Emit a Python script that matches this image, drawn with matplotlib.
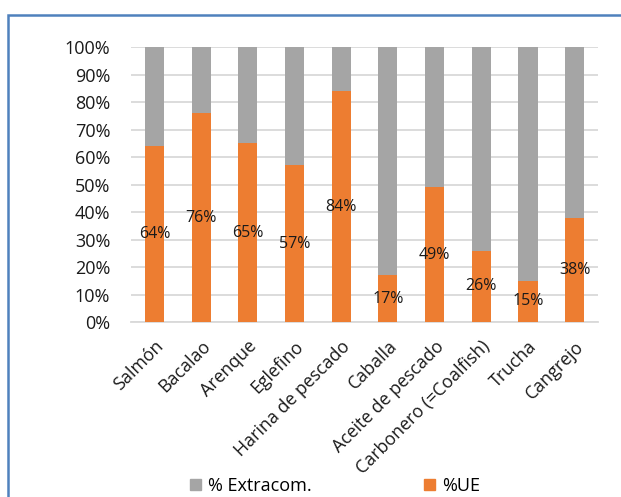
import matplotlib.pyplot as plt
import matplotlib.patches as mpatches
import numpy as np

categorias = ["Salmón", "Bacalao", "Arenque", "Eglefino", "Harina de pescado",
              "Caballa", "Aceite de pescado", "Carbonero (=Coalfish)", "Trucha", "Cangrejo"]
pct_ue = [64, 76, 65, 57, 84, 17, 49, 26, 15, 38]
pct_extracom = [100 - v for v in pct_ue]

plt.rcParams['font.family'] = ['Open Sans', 'DejaVu Sans']

fig = plt.figure(figsize=(6.21, 4.97), dpi=100)
ax = fig.add_axes([0.211, 0.352, 0.752, 0.553])

x = np.arange(len(categorias))
ancho = 0.41
ax.bar(x, pct_ue, width=ancho, color="#ED7D31", zorder=3)
ax.bar(x, pct_extracom, width=ancho, bottom=pct_ue, color="#A5A5A5", zorder=3)

# etiquetas de %UE en el centro del tramo naranja
for i, v in enumerate(pct_ue):
    ax.text(x[i], v / 2, f"{v}%", ha="center", va="center", fontsize=11.5, color="#1a1a1a", zorder=4)

ax.set_xlim(-0.5, len(categorias) - 0.5)
ax.set_ylim(0, 100)
ax.set_yticks(range(0, 101, 10))
ax.set_yticklabels([f"{t}%" for t in range(0, 101, 10)], fontsize=13, color="#1a1a1a")
ax.set_xticks(x)
ax.set_xticklabels(categorias, rotation=45, ha="right", rotation_mode="anchor", fontsize=12.8, color="#1a1a1a")
ax.tick_params(axis="y", length=0, pad=15)
ax.tick_params(axis="x", length=0, pad=11)
ax.grid(axis="y", color="#D9D9D9", linewidth=1.3, zorder=0)
for s in ["top", "right", "left"]:
    ax.spines[s].set_visible(False)
ax.spines["bottom"].set_color("#D9D9D9")
ax.spines["bottom"].set_linewidth(1.3)

handles = [mpatches.Patch(color="#A5A5A5", label="% Extracom."),
           mpatches.Patch(color="#ED7D31", label="%UE")]
fig.legend(handles=handles, loc="center", bbox_to_anchor=(0.54, 0.022), ncol=2, frameon=False,
           fontsize=13, handlelength=0.6, handleheight=0.6, columnspacing=6.2, handletextpad=0.4,
           borderpad=0.1)

# marco azul
fig.add_artist(mpatches.Rectangle((8 / 621, -0.1), 1.2, (497 - 15) / 497 + 0.1,
                                  transform=fig.transFigure, fill=False,
                                  edgecolor="#4F81BD", linewidth=1.8))

fig.savefig("out.png", dpi=100)
